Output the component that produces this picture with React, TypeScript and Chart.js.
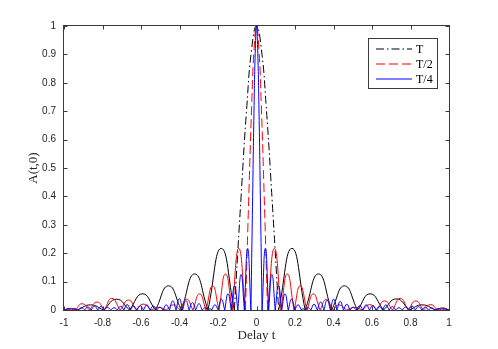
import React, { useEffect, useRef } from "react";
import { Chart, registerables } from "chart.js";

Chart.register(...registerables);

// ---------- tick labels ----------
const xTickValues = [-1, -0.8, -0.6, -0.4, -0.2, 0, 0.2, 0.4, 0.6, 0.8, 1];
const xTickLabels = ["-1", "-0.8", "-0.6", "-0.4", "-0.2", "0", "0.2", "0.4", "0.6", "0.8", "1"];
const yTickValues = [0, 0.1, 0.2, 0.3, 0.4, 0.5, 0.6, 0.7, 0.8, 0.9, 1];
const yTickLabels = ["0", "0.1", "0.2", "0.3", "0.4", "0.5", "0.6", "0.7", "0.8", "0.9", "1"];

// ---------- series (delay t, A(t,0)) ----------
const seriesLabels = ["T", "T/2", "T/4"];

const curveT: [number, number][] = [
  [-1, 0], [-0.968, 0.005], [-0.93, 0], [-0.862, 0.018], [-0.795, 0], [-0.727, 0.038],
  [-0.66, 0], [-0.592, 0.057], [-0.525, 0], [-0.457, 0.085], [-0.39, 0], [-0.321, 0.127],
  [-0.252, 0], [-0.183, 0.217], [-0.115, 0], [-0.08, 0.4], [-0.05, 0.72], [-0.025, 0.92],
  [0, 1],
  [0.025, 0.92], [0.05, 0.72], [0.08, 0.4], [0.115, 0], [0.184, 0.217], [0.253, 0],
  [0.322, 0.127], [0.39, 0], [0.457, 0.085], [0.525, 0], [0.59, 0.057], [0.66, 0],
  [0.726, 0.039], [0.795, 0], [0.86, 0.018], [0.93, 0], [0.968, 0.007], [1, 0],
];

const curveT2: [number, number][] = [
  [-1, 0], [-0.968, 0.006], [-0.94, 0], [-0.907, 0.022], [-0.868, 0], [-0.828, 0.028],
  [-0.79, 0], [-0.752, 0.041], [-0.708, 0], [-0.665, 0.035], [-0.625, 0], [-0.588, 0.021],
  [-0.548, 0], [-0.51, 0.009], [-0.468, 0], [-0.431, 0.018], [-0.397, 0], [-0.363, 0.038],
  [-0.33, 0], [-0.296, 0.057], [-0.262, 0], [-0.228, 0.085], [-0.195, 0], [-0.161, 0.127],
  [-0.126, 0], [-0.092, 0.217], [-0.0575, 0], [-0.04, 0.4], [-0.025, 0.72], [-0.0125, 0.92],
  [0, 1],
  [0.0125, 0.92], [0.025, 0.72], [0.04, 0.4], [0.0575, 0], [0.093, 0.217], [0.127, 0],
  [0.16, 0.127], [0.195, 0], [0.227, 0.085], [0.262, 0], [0.295, 0.057], [0.33, 0],
  [0.362, 0.037], [0.397, 0], [0.428, 0.018], [0.468, 0], [0.51, 0.009], [0.55, 0],
  [0.588, 0.019], [0.625, 0], [0.665, 0.032], [0.706, 0], [0.747, 0.041], [0.788, 0],
  [0.827, 0.032], [0.867, 0], [0.905, 0.019], [0.94, 0], [0.968, 0.006], [1, 0],
];

const curveT4: [number, number][] = [
  [-1, 0], [-0.98, 0.003], [-0.961, 0], [-0.944, 0.005], [-0.927, 0], [-0.91, 0.008],
  [-0.893, 0], [-0.876, 0.011], [-0.859, 0], [-0.842, 0.013], [-0.825, 0], [-0.808, 0.012],
  [-0.791, 0], [-0.774, 0.009], [-0.757, 0], [-0.74, 0.008], [-0.723, 0], [-0.706, 0.013],
  [-0.689, 0], [-0.672, 0.019], [-0.655, 0], [-0.638, 0.013], [-0.621, 0], [-0.604, 0.015],
  [-0.587, 0], [-0.57, 0.018], [-0.553, 0], [-0.536, 0.014], [-0.519, 0], [-0.502, 0.01],
  [-0.4855, 0], [-0.469, 0.018], [-0.452, 0], [-0.435, 0.032], [-0.418, 0], [-0.401, 0.04],
  [-0.384, 0], [-0.367, 0.033], [-0.35, 0], [-0.333, 0.026], [-0.316, 0], [-0.299, 0.022],
  [-0.2825, 0], [-0.266, 0.008], [-0.25, 0], [-0.242, 0.005], [-0.233, 0], [-0.216, 0.018],
  [-0.199, 0], [-0.182, 0.038], [-0.165, 0], [-0.148, 0.057], [-0.131, 0], [-0.114, 0.085],
  [-0.097, 0], [-0.08, 0.125], [-0.063, 0], [-0.046, 0.217], [-0.029, 0], [-0.02, 0.4],
  [-0.0125, 0.72], [-0.006, 0.92],
  [0, 1],
  [0.006, 0.92], [0.0125, 0.72], [0.02, 0.4], [0.029, 0], [0.046, 0.217], [0.063, 0],
  [0.08, 0.125], [0.097, 0], [0.114, 0.085], [0.131, 0], [0.148, 0.057], [0.165, 0],
  [0.182, 0.038], [0.199, 0], [0.216, 0.018], [0.233, 0], [0.242, 0.005], [0.25, 0],
  [0.266, 0.008], [0.2825, 0], [0.299, 0.02], [0.316, 0], [0.333, 0.028], [0.35, 0],
  [0.367, 0.034], [0.384, 0], [0.401, 0.038], [0.418, 0], [0.435, 0.03], [0.452, 0],
  [0.469, 0.02], [0.4855, 0], [0.502, 0.01], [0.519, 0], [0.536, 0.015], [0.553, 0],
  [0.57, 0.018], [0.587, 0], [0.604, 0.016], [0.621, 0], [0.638, 0.012], [0.655, 0],
  [0.672, 0.018], [0.689, 0], [0.706, 0.012], [0.723, 0], [0.74, 0.008], [0.757, 0],
  [0.774, 0.01], [0.791, 0], [0.808, 0.014], [0.825, 0], [0.842, 0.012], [0.859, 0],
  [0.876, 0.01], [0.893, 0], [0.91, 0.007], [0.927, 0], [0.944, 0.005], [0.961, 0],
  [0.98, 0.003], [1, 0],
];

// main-lobe half widths (where MATLAB's sparse steep segments show the dash pattern)
const mainLobeZero = [0.115, 0.0575, 0.029];

const seriesColors = ["#000000", "#ff0000", "#0000ff"];
const seriesDash: number[][] = [[8, 3, 1.5, 3], [9, 4], []];

function toData(curve: [number, number][]) {
  const out: { x: number; y: number }[] = [];
  for (const [t, a] of curve) {
    out.push({ x: t, y: a });
    if (a === 0) out.push({ x: t, y: a }); // repeated null gives a sharp cusp
  }
  return out;
}

function segDash(zero: number, dash: number[]) {
  return (ctx: any) => {
    if (!dash.length) return undefined;
    const mid = (ctx.p0.parsed.x + ctx.p1.parsed.x) / 2;
    return Math.abs(mid) < zero - 1e-6 ? dash : undefined;
  };
}

const framePlugin = {
  id: "matlabFrame",
  afterDraw(chart: any) {
    const { ctx, chartArea: a, scales } = chart;
    const L = a.left - 0.5, R = a.right + 0.5, T = a.top - 0.5, B = a.bottom + 0.5;
    ctx.save();
    ctx.strokeStyle = "#3a3a3a";
    ctx.lineWidth = 1;
    ctx.setLineDash([]);
    ctx.strokeRect(L, T, R - L, B - T);
    const tl = 4;
    ctx.beginPath();
    for (const v of xTickValues) {
      const px = Math.round(scales.x.getPixelForValue(v)) + 0.5;
      ctx.moveTo(px, B); ctx.lineTo(px, B - tl);
      ctx.moveTo(px, T); ctx.lineTo(px, T + tl);
    }
    for (const v of yTickValues) {
      const py = Math.round(scales.y.getPixelForValue(v)) + 0.5;
      ctx.moveTo(L, py); ctx.lineTo(L + tl, py);
      ctx.moveTo(R, py); ctx.lineTo(R - tl, py);
    }
    ctx.stroke();

    // legend box
    const bx = 368.5, by = 38.5, bw = 69, bh = 50;
    ctx.fillStyle = "#ffffff";
    ctx.fillRect(bx, by, bw, bh);
    ctx.strokeStyle = "#3a3a3a";
    ctx.strokeRect(bx, by, bw, bh);
    const rows = [49, 64, 79];
    seriesLabels.forEach((lab, i) => {
      const y = rows[i];
      ctx.beginPath();
      ctx.strokeStyle = seriesColors[i];
      ctx.lineWidth = 1.2;
      ctx.setLineDash(seriesDash[i]);
      ctx.moveTo(376, y);
      ctx.lineTo(412, y);
      ctx.stroke();
      ctx.setLineDash([]);
      ctx.fillStyle = "#000000";
      ctx.font = "12px 'Liberation Serif'";
      ctx.textBaseline = "middle";
      ctx.textAlign = "left";
      ctx.fillText(lab, 416, rows[i] + 0.5);
    });
    ctx.restore();
  },
};

export default function App() {
  const ref = useRef<HTMLCanvasElement | null>(null);

  useEffect(() => {
    if (!ref.current) return;
    const curves = [curveT, curveT2, curveT4];
    const chart = new Chart(ref.current, {
      type: "line",
      data: {
        datasets: curves.map((c, i) => ({
          label: seriesLabels[i],
          data: toData(c),
          borderColor: seriesColors[i],
          backgroundColor: seriesColors[i],
          borderWidth: 1,
          borderDash: [],
          borderJoinStyle: "round",
          fill: false,
          tension: 0.5,
          pointRadius: 0,
          pointHoverRadius: 0,
          order: 3 - i,
          segment: { borderDash: segDash(mainLobeZero[i], seriesDash[i]) },
        })),
      } as any,
      options: {
        animation: false,
        responsive: false,
        devicePixelRatio: 1,
        layout: { padding: { left: 0, top: 26, right: 49, bottom: 0 } },
        plugins: { legend: { display: false }, tooltip: { enabled: false } },
        events: [],
        scales: {
          x: {
            type: "linear",
            min: -1,
            max: 1,
            grid: { display: false, drawTicks: false },
            border: { display: false },
            afterBuildTicks: (s: any) => {
              s.ticks = xTickValues.map((v) => ({ value: v }));
            },
            ticks: {
              autoSkip: false,
              maxRotation: 0,
              padding: 7,
              color: "#262626",
              font: { family: "'Liberation Sans', Arial, sans-serif", size: 10 },
              callback: (_v: any, i: number) => xTickLabels[i],
            },
            title: {
              display: true,
              text: "Delay t",
              color: "#262626",
              font: { family: "'Liberation Serif', serif", size: 13 },
              padding: { top: 0, bottom: 6 },
            },
            afterFit: (s: any) => {
              s.height = 39;
            },
          },
          y: {
            type: "linear",
            min: 0,
            max: 1,
            grid: { display: false, drawTicks: false },
            border: { display: false },
            afterBuildTicks: (s: any) => {
              s.ticks = yTickValues.map((v) => ({ value: v }));
            },
            ticks: {
              autoSkip: false,
              padding: 8,
              color: "#262626",
              font: { family: "'Liberation Sans', Arial, sans-serif", size: 10 },
              callback: (_v: any, i: number) => yTickLabels[i],
            },
            title: {
              display: true,
              text: "A(t,0)",
              color: "#262626",
              font: { family: "'Liberation Serif', serif", size: 13 },
              padding: { top: 26, bottom: 0 },
            },
            afterFit: (s: any) => {
              s.width = 64;
            },
          },
        },
      } as any,
      plugins: [framePlugin],
    });
    return () => chart.destroy();
  }, []);

  return (
    <div style={{ position: "absolute", left: 0, top: 0, width: 498, height: 349, background: "#ffffff" }}>
      <canvas ref={ref} width={498} height={349} style={{ display: "block" }} />
    </div>
  );
}
